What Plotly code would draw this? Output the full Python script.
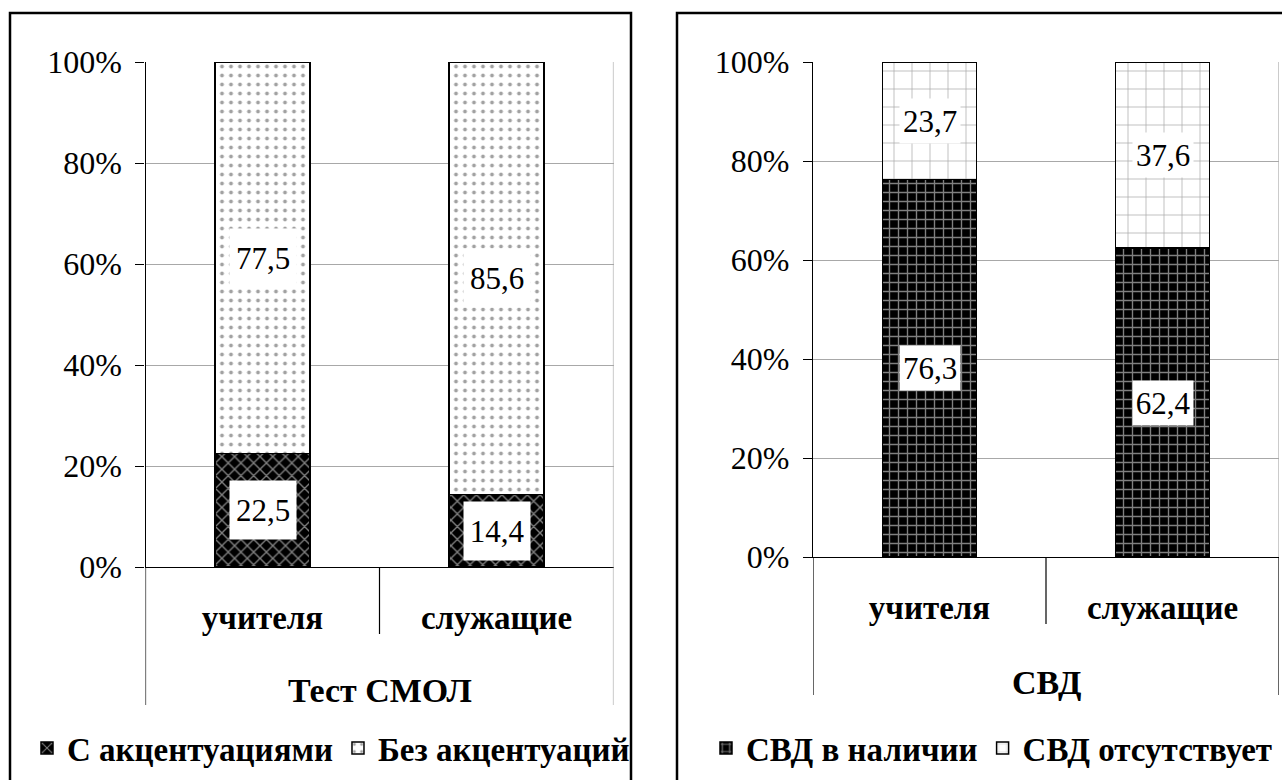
import plotly.graph_objects as go

# ---- data -------------------------------------------------------------
groups = ["учителя", "служащие"]

smol_title = "Тест СМОЛ"
smol_names = ["С акцентуациями", "Без акцентуаций"]
smol_accent = [22.5, 14.4]
smol_no_accent = [77.5, 85.6]

svd_title = "СВД"
svd_names = ["СВД в наличии", "СВД отсутствует"]
svd_present = [76.3, 62.4]
svd_absent = [23.7, 37.6]

y_ticks = [0, 20, 40, 60, 80, 100]
y_tick_text = [f"{v}%" for v in y_ticks]

# ---- style ------------------------------------------------------------
W, H = 1282, 780
SERIF = "Liberation Serif"
GRID = "#a8a8a8"


def px_x(p):
    return p / W


def px_y(p):
    return 1 - p / H


def fmt(v):
    return f"{v:.1f}".replace(".", ",")


fig = go.Figure()

patterns = {
    "smol_low": dict(shape="x", fgcolor="white", bgcolor="black", size=9, solidity=0.28),
    "smol_high": dict(shape=".", fgcolor="#444444", bgcolor="white", size=9, solidity=0.14),
    "svd_low": dict(shape="+", fgcolor="white", bgcolor="black", size=9, solidity=0.28),
    "svd_high": dict(shape="+", fgcolor="#555555", bgcolor="white", size=18, solidity=0.08),
}

panels = [
    dict(xa="x", ya="y", legend="legend", names=smol_names, low=smol_accent,
         high=smol_no_accent, pl="smol_low", ph="smol_high", title=smol_title),
    dict(xa="x2", ya="y2", legend="legend2", names=svd_names, low=svd_present,
         high=svd_absent, pl="svd_low", ph="svd_high", title=svd_title),
]

for p in panels:
    fig.add_trace(go.Bar(
        x=groups, y=p["low"], name=p["names"][0], xaxis=p["xa"], yaxis=p["ya"],
        legend=p["legend"],
        marker=dict(color="black", pattern=patterns[p["pl"]],
                    line=dict(color="black", width=1.5)),
        hoverinfo="skip",
    ))
    fig.add_trace(go.Bar(
        x=groups, y=p["high"], name=p["names"][1], xaxis=p["xa"], yaxis=p["ya"],
        legend=p["legend"],
        marker=dict(color="white", pattern=patterns[p["ph"]],
                    line=dict(color="black", width=1.5)),
        hoverinfo="skip",
    ))

# value labels on white boxes, centred in each segment
annotations = []
for p, (bw, bh) in zip(panels, [(64, 56), (58, 42)]):
    for g, lo, hi in zip(groups, p["low"], p["high"]):
        for yc, v in [(lo / 2, lo), (lo + hi / 2, hi)]:
            annotations.append(dict(
                x=g, y=yc, xref=p["xa"], yref=p["ya"], text=fmt(v),
                showarrow=False, bgcolor="white", width=bw, height=bh,
                xanchor="center", yanchor="middle",
                font=dict(family=SERIF, size=31, color="black"),
            ))

# group titles below the category labels
annotations.append(dict(x=0.5, y=-0.245, xref="x domain", yref="y domain",
                        text=smol_title, showarrow=False,
                        xanchor="center", yanchor="middle",
                        font=dict(family=SERIF, size=34, color="black", weight="bold")))
annotations.append(dict(x=0.5, y=-0.253, xref="x2 domain", yref="y2 domain",
                        text=svd_title, showarrow=False,
                        xanchor="center", yanchor="middle",
                        font=dict(family=SERIF, size=34, color="black", weight="bold")))

shapes = []
# panel frames
shapes.append(dict(type="rect", xref="paper", yref="paper",
                   x0=px_x(10), x1=px_x(631), y0=-0.05, y1=px_y(13),
                   line=dict(color="black", width=2.5), layer="below"))
shapes.append(dict(type="rect", xref="paper", yref="paper",
                   x0=px_x(677), x1=1.05, y0=-0.05, y1=px_y(13),
                   line=dict(color="black", width=2.5), layer="below"))

for xa, ya, dh, right_color in [("x", "y", 505, GRID), ("x2", "y2", 495, "black")]:
    div_end = -67 / dh
    out_end = -138 / dh
    # divider between the two groups in the label band
    shapes.append(dict(type="line", xref=xa, yref=f"{ya} domain",
                       x0=0.5, x1=0.5, y0=0, y1=div_end,
                       line=dict(color="black", width=1.2)))
    # left edge extension of the category band
    shapes.append(dict(type="line", xref=xa, yref=f"{ya} domain",
                       x0=-0.5, x1=-0.5, y0=0, y1=out_end,
                       line=dict(color="black", width=1.2)))
    # right edge of the plot area and its extension
    shapes.append(dict(type="line", xref=xa, yref=f"{ya} domain",
                       x0=1.5, x1=1.5, y0=0, y1=1,
                       line=dict(color=GRID, width=1.2)))
    shapes.append(dict(type="line", xref=xa, yref=f"{ya} domain",
                       x0=1.5, x1=1.5, y0=0, y1=out_end,
                       line=dict(color=right_color, width=1.2)))

yaxis_common = dict(
    range=[0, 100], tickvals=y_ticks, ticktext=y_tick_text,
    ticks="outside", ticklen=9, tickcolor="black", tickwidth=1.2,
    showline=True, linecolor="black", linewidth=1.2,
    showgrid=True, gridcolor=GRID, gridwidth=1, zeroline=False,
    tickfont=dict(family=SERIF, size=32, color="black"),
    ticklabelstandoff=7,
    fixedrange=True,
)
xaxis_common = dict(
    type="category", range=[-0.5, 1.5], showline=True, linecolor="black",
    linewidth=1.2, ticks="", showgrid=False, ticklabelstandoff=21,
    tickfont=dict(family=SERIF, size=33, color="black", weight="bold"),
    fixedrange=True,
)

legend_common = dict(
    orientation="h", yanchor="middle", xanchor="center",
    font=dict(family=SERIF, size=33, color="black", weight="bold"),
    bgcolor="rgba(0,0,0,0)", itemwidth=30, traceorder="normal",
    itemclick=False, itemdoubleclick=False,
)

fig.update_layout(
    width=W, height=H,
    margin=dict(l=0, r=0, t=0, b=0, autoexpand=False),
    paper_bgcolor="white", plot_bgcolor="white",
    barmode="stack", bargap=0.595,
    xaxis=dict(domain=[px_x(145.5), px_x(613.5)], anchor="y", **xaxis_common),
    yaxis=dict(domain=[px_y(567), px_y(62)], anchor="x", **yaxis_common),
    xaxis2=dict(domain=[px_x(813), px_x(1279)], anchor="y2", **xaxis_common),
    yaxis2=dict(domain=[px_y(557), px_y(62)], anchor="x2", **yaxis_common),
    legend=dict(x=px_x(331), y=px_y(748), **legend_common),
    legend2=dict(x=px_x(992), y=px_y(748), **legend_common),
    annotations=annotations,
    shapes=shapes,
    showlegend=True,
)

fig.write_html("out.html")
